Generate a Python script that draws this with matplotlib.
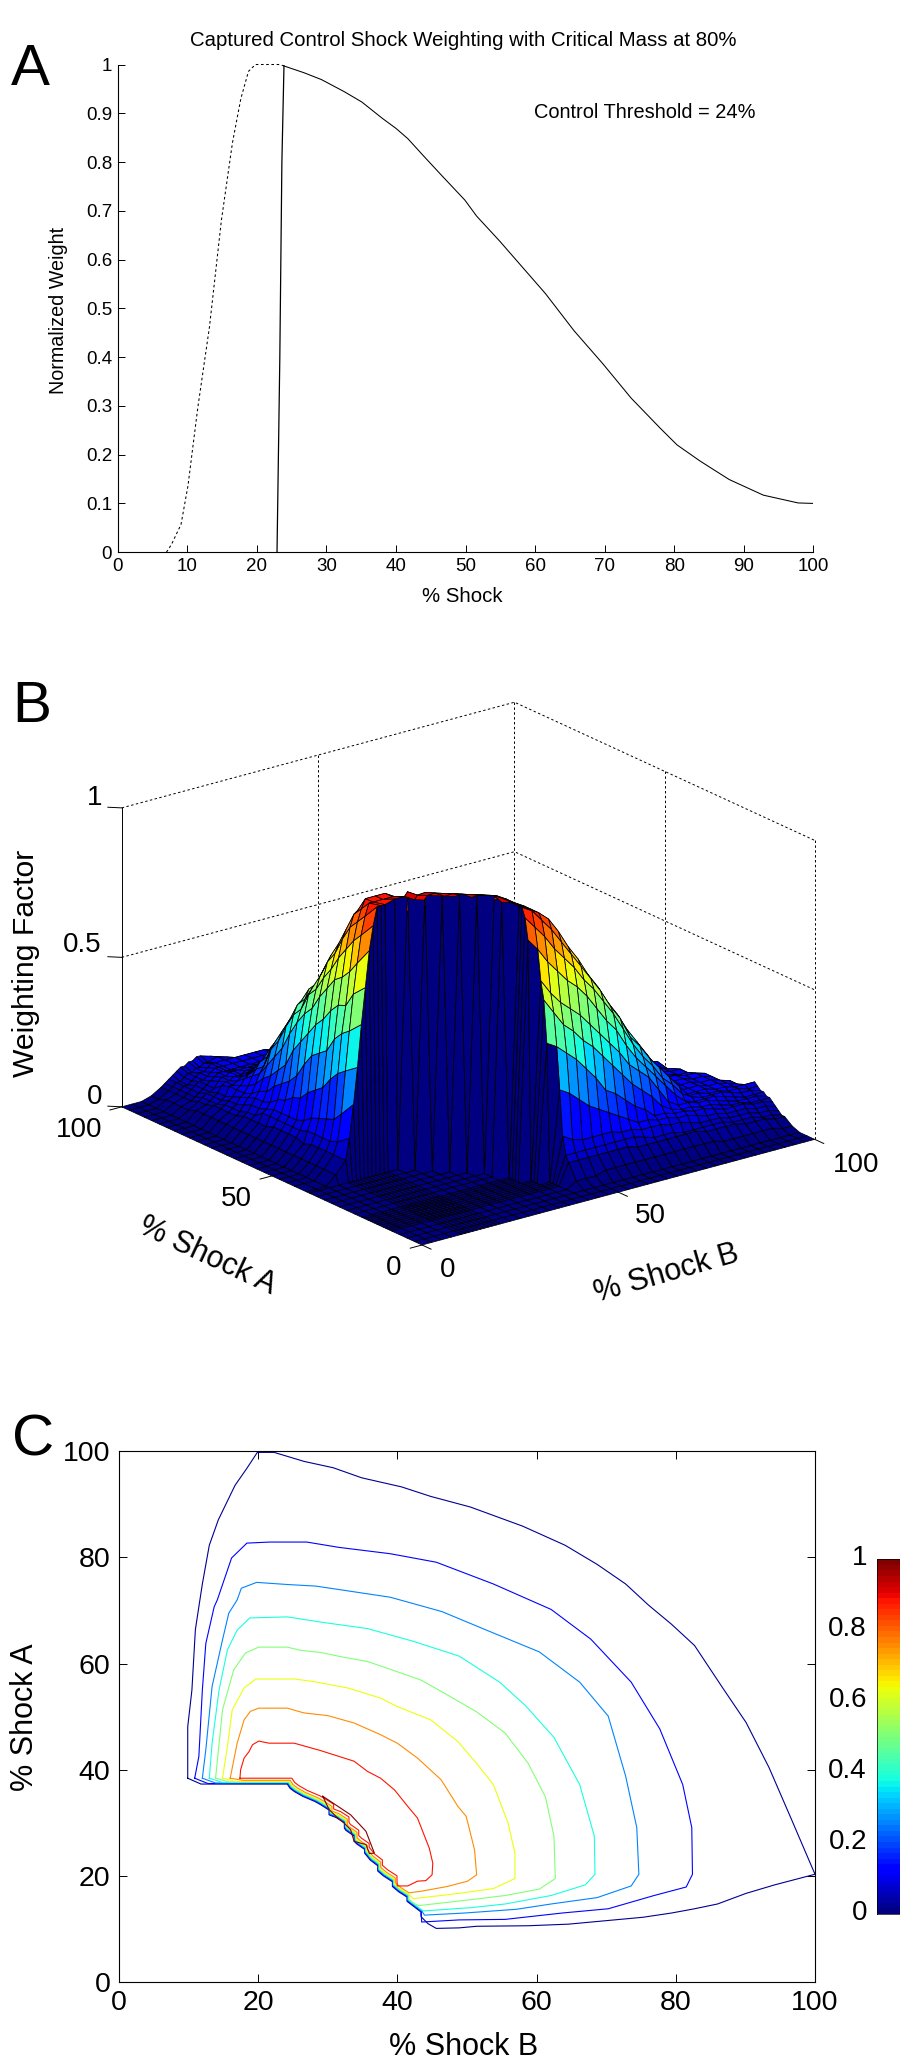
import numpy as np
import matplotlib
matplotlib.use('Agg')
import matplotlib.pyplot as plt
from matplotlib.cm import ScalarMappable
from matplotlib.colors import Normalize
from matplotlib.transforms import ScaledTranslation
from mpl_toolkits.mplot3d import proj3d

plt.rcParams['font.family'] = ['Liberation Sans', 'DejaVu Sans']

W, H = 900, 2070

# panel A: weight against shock size
rise_x = [7, 7.7, 9.1, 10.1, 11.5, 13.2, 14.9, 16.5, 17.7, 18.8, 19.8, 23.1, 24]
rise_y = [0, .015, .057, .136, .295, .463, .68, .84, .93, .986, 1, 1, .997]
cut_x = [22.9, 23.3, 23.6, 23.9]
cut_y = [0, .396, .8, .997]
fall_x = [23.9, 26.8, 29.3, 32.6, 35.1, 38, 40, 41.7, 44, 46.6, 49.9, 51.6, 54.9, 58.2, 61.5, 65.6, 69.7, 73.8, 78, 80.4, 83.7, 87.9, 92.8, 97.8, 100]
fall_y = [.997, .983, .969, .944, .923, .89, .869, .848, .812, .772, .722, .689, .638, .584, .53, .454, .387, .316, .254, .22, .187, .149, .117, .101, .1]
a_xticks = [0, 10, 20, 30, 40, 50, 60, 70, 80, 90, 100]
a_yticks = [0, .1, .2, .3, .4, .5, .6, .7, .8, .9, 1]
a_ylabels = ['0', '0.1', '0.2', '0.3', '0.4', '0.5', '0.6', '0.7', '0.8', '0.9', '1']

# panel B: weighting factor in percent. The mesh is finer where the surface climbs fast.
shock_b = [0, 2.5, 5, 7.5, 10, 11, 12, 13, 14, 15, 16, 17, 18, 19, 20, 22.5, 25, 27.5, 30, 32.5, 35, 37.5, 40, 42.5, 45, 47.5, 50, 52.5, 55, 57.5, 60, 62.5, 65, 67.5, 70, 72.5, 75, 77.5, 80, 82.5, 85, 87.5, 90, 92.5, 95, 97.5, 100]
shock_a = [0, 2.5, 5, 7.5, 10, 11, 12, 13, 14, 15, 16, 17, 18, 19, 20, 22.5, 25, 27.5, 30, 32.5, 35, 37.5, 38.5, 42.5, 45, 47.5, 50, 52.5, 55, 57.5, 60, 62.5, 65, 67.5, 70, 72.5, 75, 77.5, 80, 82.5, 85, 87.5, 90, 92.5, 95, 97.5, 100]
# shock B value where the non zero part of each row starts, then the row's values
row_start = [0, 0, 0, 45, 45, 45, 45, 45, 42.5, 42.5, 42.5, 40, 40, 40, 40, 37.5, 37.5, 35, 32.5, 30, 27.5, 25] + [7.5] * 25
row_vals = [
    [], [], [],
    [2, 2, 2, 3, 3, 3, 3, 3, 3, 3, 3, 3, 3, 3, 3, 2, 2, 2, 2, 2, 2, 1, 1],
    [7, 7, 7, 7, 7, 7, 7, 6, 6, 6, 6, 6, 6, 6, 5, 5, 5, 5, 4, 4, 4, 3, 3],
    [9, 9, 9, 9, 9, 9, 9, 9, 8, 7, 7, 7, 6, 6, 6, 6, 6, 5, 5, 5, 4, 4, 3],
    [15, 13, 12, 12, 12, 12, 11, 11, 10, 10, 10, 9, 9, 8, 7, 7, 7, 6, 6, 6, 5, 5, 4],
    [30, 28, 25, 22, 20, 18, 16, 14, 12, 12, 11, 11, 10, 10, 9, 8, 8, 7, 7, 7, 6, 6, 5],
    [46, 44, 41, 38, 34, 30, 25, 23, 20, 17, 15, 12, 12, 11, 11, 10, 10, 9, 8, 8, 8, 7, 7, 6],
    [60, 55, 50, 47, 43, 40, 36, 32, 28, 24, 21, 18, 14, 12, 11, 11, 10, 10, 9, 8, 8, 7, 7, 7],
    [66, 61, 57, 54, 51, 47, 43, 39, 35, 30, 27, 24, 19, 14, 12, 12, 11, 11, 10, 9, 8, 8, 8, 7],
    [80, 76, 71, 67, 63, 60, 56, 51, 46, 42, 36, 31, 27, 23, 19, 15, 12, 11, 11, 11, 10, 9, 8, 8, 8],
    [87, 83, 79, 74, 70, 66, 61, 57, 52, 47, 41, 35, 30, 26, 21, 18, 14, 12, 11, 11, 11, 10, 9, 9, 8],
    [90, 88, 84, 80, 75, 70, 65, 60, 55, 49, 44, 37, 33, 28, 24, 20, 16, 12, 12, 11, 11, 10, 10, 9, 9],
    [90, 88, 86, 83, 78, 72, 67, 61, 56, 50, 45, 39, 34, 29, 24, 20, 16, 12, 12, 12, 11, 11, 10, 10, 10],
    [91, 90, 88, 86, 82, 77, 72, 67, 61, 56, 50, 45, 39, 34, 29, 24, 20, 16, 12, 12, 12, 11, 11, 10, 9],
    [92, 90, 88, 86, 82, 77, 72, 67, 61, 56, 50, 45, 39, 34, 29, 24, 20, 16, 12, 12, 12, 11, 11, 10, 9],
    [92, 91, 90, 88, 85, 81, 76, 71, 66, 60, 55, 49, 44, 39, 34, 29, 24, 20, 16, 12, 12, 12, 11, 11, 10, 3],
    [92, 91, 90, 89, 87, 84, 80, 75, 70, 64, 59, 53, 49, 43, 38, 33, 28, 23, 19, 16, 12, 12, 12, 11, 11, 10],
    [92, 91, 90, 88, 87, 85, 81, 77, 73, 68, 63, 58, 53, 47, 42, 37, 32, 27, 23, 19, 15, 12, 11, 11, 10, 10, 8],
    [92, 91, 89, 88, 87, 85, 83, 79, 75, 71, 66, 62, 57, 52, 47, 41, 36, 31, 27, 22, 18, 15, 12, 11, 11, 10, 10, 5],
    [92, 90, 89, 88, 87, 86, 84, 81, 77, 74, 69, 65, 60, 55, 50, 46, 40, 35, 30, 26, 21, 17, 14, 12, 11, 10, 10, 9],
    [3, 7, 14, 25, 37, 51, 63, 75, 83, 89, 89, 89, 90, 90, 88, 87, 86, 85, 84, 82, 79, 75, 71, 68, 63, 59, 55, 49, 44, 38, 33, 29, 25, 21, 17, 13, 12, 11, 10, 10, 8],
    [3, 7, 11, 20, 34, 47, 59, 69, 78, 84, 88, 88, 88, 88, 87, 86, 85, 83, 81, 79, 75, 72, 68, 64, 60, 56, 51, 47, 41, 36, 32, 28, 24, 20, 16, 12, 12, 11, 10, 10, 9],
    [3, 7, 10, 17, 32, 45, 54, 65, 75, 81, 85, 88, 88, 88, 86, 84, 82, 80, 77, 75, 72, 67, 64, 61, 58, 53, 49, 44, 39, 35, 31, 27, 23, 19, 15, 12, 11, 11, 10, 10],
    [3, 7, 10, 16, 29, 42, 53, 62, 71, 78, 82, 83, 83, 82, 80, 79, 78, 76, 73, 70, 66, 62, 59, 55, 52, 49, 44, 40, 36, 33, 30, 26, 23, 19, 13, 12, 11, 11, 10, 10],
    [3, 7, 10, 15, 25, 37, 50, 60, 67, 73, 76, 77, 77, 76, 76, 75, 72, 69, 66, 62, 60, 57, 55, 52, 50, 46, 42, 38, 35, 32, 28, 25, 21, 16, 12, 11, 11, 10, 10],
    [3, 6, 10, 14, 23, 35, 46, 56, 62, 67, 70, 71, 71, 70, 69, 68, 66, 64, 62, 59, 56, 54, 51, 49, 46, 43, 39, 36, 33, 30, 27, 24, 20, 14, 12, 11, 11, 10, 10],
    [3, 7, 9, 12, 21, 33, 43, 52, 58, 63, 65, 65, 65, 64, 64, 63, 62, 60, 57, 55, 53, 51, 47, 44, 41, 38, 35, 33, 30, 28, 25, 21, 16, 12, 11, 11, 10, 10],
    [3, 7, 9, 11, 18, 29, 39, 47, 53, 57, 59, 59, 59, 59, 58, 58, 57, 55, 54, 52, 50, 47, 44, 42, 39, 36, 33, 31, 28, 25, 22, 19, 13, 12, 11, 11, 10, 10, 8],
    [3, 7, 9, 11, 17, 24, 35, 44, 50, 52, 53, 53, 53, 53, 53, 52, 52, 51, 50, 48, 46, 44, 41, 39, 36, 33, 30, 28, 25, 23, 20, 15, 12, 11, 11, 10, 10, 5],
    [3, 7, 9, 11, 15, 21, 31, 40, 44, 47, 50, 50, 50, 50, 50, 50, 48, 47, 46, 44, 42, 39, 37, 34, 32, 30, 28, 25, 23, 20, 17, 12, 11, 11, 10, 10, 9],
    [3, 6, 9, 11, 14, 19, 25, 35, 41, 44, 45, 45, 45, 44, 44, 43, 42, 41, 39, 37, 35, 33, 31, 29, 27, 25, 22, 20, 18, 15, 12, 12, 11, 11, 10, 10],
    [3, 6, 9, 10, 12, 17, 22, 29, 36, 38, 39, 39, 39, 39, 38, 38, 36, 35, 33, 32, 30, 29, 27, 25, 23, 21, 19, 17, 15, 12, 12, 11, 11, 10, 10],
    [3, 6, 7, 9, 11, 14, 19, 25, 30, 33, 34, 34, 34, 33, 33, 32, 31, 30, 29, 28, 27, 26, 24, 22, 20, 18, 16, 14, 12, 12, 11, 11, 10, 10],
    [3, 6, 7, 9, 11, 13, 17, 21, 26, 28, 29, 29, 29, 28, 28, 27, 27, 26, 25, 24, 23, 22, 20, 19, 17, 15, 13, 12, 11, 11, 10, 10, 10, 5],
    [3, 5, 6, 8, 10, 11, 14, 17, 19, 22, 25, 25, 25, 25, 24, 23, 23, 22, 21, 20, 19, 18, 17, 15, 13, 12, 11, 11, 11, 11, 10, 10, 9],
    [3, 5, 6, 7, 9, 10, 12, 15, 17, 19, 20, 20, 20, 20, 19, 19, 18, 18, 17, 16, 15, 14, 13, 12, 11, 11, 11, 11, 10, 10, 10, 8],
    [3, 5, 6, 7, 8, 10, 11, 13, 14, 15, 16, 16, 16, 16, 15, 15, 15, 14, 14, 13, 12, 12, 11, 11, 11, 11, 10, 10, 10, 9, 5],
    [3, 5, 5, 6, 7, 10, 10, 11, 12, 12, 13, 13, 13, 13, 12, 12, 12, 11, 11, 11, 11, 11, 10, 10, 10, 10, 10, 10, 9],
    [3, 4, 5, 6, 7, 9, 10, 10, 11, 11, 11, 12, 12, 11, 11, 11, 11, 11, 11, 10, 10, 10, 10, 10, 10, 10, 10, 9],
    [2, 4, 5, 6, 6, 7, 9, 10, 10, 11, 11, 11, 11, 11, 10, 10, 10, 10, 10, 10, 10, 10, 10, 10, 9],
    [2, 3, 4, 5, 6, 7, 8, 9, 10, 10, 10, 10, 10, 10, 10, 10, 10, 10, 10, 10, 10, 10, 9],
    [2, 3, 4, 5, 6, 7, 7, 8, 9, 10, 10, 10, 10, 10, 10, 10, 10, 10, 10, 10, 9, 9],
    [2, 3, 4, 5, 5, 6, 7, 8, 8, 9, 10, 10, 10, 10, 10, 10, 10, 9, 5],
    [1, 3, 4, 5, 5, 6, 7, 7, 8, 8, 9, 9, 10, 9, 6],
    [1, 3, 4, 5, 6, 7, 8, 8, 9, 9, 10, 10, 9, 3],
]
b_xyticks = [0, 50, 100]
b_zticks = [0, .5, 1]

# panel C: contour lines, x is % shock B and y is % shock A
c0_b = [9.9, 9.9, 10.5, 11, 11.65, 12, 13, 14.3, 16.7, 18.4, 19.9, 22.3, 26.6, 30.8, 34.9, 40.6, 44.8, 50.5, 58, 64.1, 68.7, 72.8, 76.1, 79.4, 82.7, 86.8, 90.1, 93.4, 96.7, 100, 94.2, 90.1, 86, 82.7, 79.4, 75.3, 68.7, 64.6, 58.8, 51.4, 48.9, 45.6, 44.4, 43.5]
c0_a = [38.4, 48.1, 55, 66.4, 72, 75, 82.3, 87.1, 93.6, 96.8, 99.8, 99.8, 98.1, 96.9, 95, 93.3, 91.5, 89.5, 85.9, 82.3, 78.7, 75, 71, 67.4, 63.4, 55.3, 48.9, 40.4, 30.4, 20.3, 18.3, 16.7, 14.7, 13.8, 13, 12.2, 11.4, 10.9, 10.6, 10.5, 10.2, 10.1, 11, 12.2]
c1_b = [10.9, 11.5, 12, 12.5, 13.7, 14.15, 16.2, 18.4, 21.7, 27, 31.6, 39, 45.6, 53.8, 62.1, 67.8, 73.6, 77.7, 81, 82.3, 82.4, 81.5, 76.9, 70.3, 63.7, 55.5, 48.9, 43.5]
c1_a = [38.4, 42.5, 55, 63.8, 70.7, 72, 79.9, 82.7, 82.9, 82.9, 81.9, 80.7, 79.1, 75, 70.2, 64.6, 56.5, 47.7, 37.2, 29.1, 20.3, 17.9, 16.3, 13.8, 13, 11.8, 11.7, 11.3]
c2_b = [12, 12.5, 13.4, 14.9, 15.8, 17, 17.6, 19.8, 24.2, 28.3, 32.4, 39, 46.4, 53, 60.4, 66.2, 70.3, 72.8, 74.4, 74.7, 73.6, 68.7, 62.1, 57.1, 49.7, 43.9]
c2_a = [38.4, 43.8, 55.7, 64.5, 69.5, 72, 74.2, 75.3, 74.9, 74.6, 73.8, 72.5, 69.8, 66.2, 62.2, 56.5, 50.1, 38.8, 29.1, 20.3, 18.1, 15.9, 14.7, 13.7, 13, 12.6]
c3_b = [13, 13.4, 14.4, 15.6, 17, 18.8, 24.2, 29.1, 35.7, 42.3, 48.9, 54.7, 58.4, 62.5, 66.2, 68.3, 68.4, 67, 62.1, 55.5, 50.5, 43.9]
c3_a = [38.4, 45, 55, 62.6, 66.3, 68.6, 68.8, 67.8, 66.6, 64.2, 61.4, 56.5, 52.1, 46.1, 37.2, 27.5, 20.3, 18.3, 16.3, 14.7, 14, 13.4]
c4_b = [13.9, 14.9, 16.5, 18.2, 20.1, 24.2, 26.1, 29, 31.9, 35.7, 38.6, 43.4, 46.8, 51.4, 55.5, 58.8, 61.3, 62.5, 62.7, 60.4, 55.5, 50.5, 43.1]
c4_a = [38.4, 51.3, 58.8, 62, 63.1, 63.1, 62.5, 62.1, 61.3, 60.4, 59.1, 56.9, 54.4, 50.9, 46.9, 41.2, 34.8, 27.5, 19.5, 17.5, 16.3, 15.5, 14.4]
c5_b = [14.9, 15.6, 16.3, 18, 19.7, 25.2, 28, 32.9, 37.6, 40, 44.8, 48.7, 51.4, 53.8, 55.9, 56.9, 56.9, 53.8, 48.9, 42.3]
c5_a = [38.4, 44.4, 51.3, 55.4, 57.1, 57.1, 56.6, 55.4, 53.5, 51.9, 49.4, 45.3, 41.2, 37.2, 30, 24.3, 19.5, 17.6, 16.7, 15.7]
c6_b = [16, 17, 18, 18.9, 20.1, 24.2, 26.6, 30, 33.8, 37.6, 40, 42.9, 46.3, 48.7, 49.9, 51.1, 51.4, 50.1, 47.2, 43.4, 41.7]
c6_a = [38.4, 45, 49.4, 51, 51.6, 51.6, 50.7, 50.2, 48.8, 46.6, 45, 42.2, 38.1, 33.1, 31.2, 24.9, 20.2, 19, 18, 17.1, 16.8]
c7_b = [17.4, 17.5, 18, 18.7, 19.2, 20.1, 21.6, 25.2, 29, 33.8, 35.7, 37.6, 39.6, 41.5, 42.9, 44.6, 45.1, 45, 44.1, 42.9, 41.5, 40]
c7_a = [38.4, 40, 42.2, 43.4, 44.7, 45.4, 45, 45, 43.6, 41.6, 39.7, 38.4, 36.2, 33.1, 30.9, 25.2, 22.4, 20.2, 19.1, 19, 18.1, 18.1]
c8_b = [29.3, 33.3, 35.5, 36.7, 36, 35.5, 33.8, 33.3, 32.4, 31.2, 30.2, 29.3]
c8_a = [35, 31.5, 28.4, 24.3, 24.2, 25.9, 26.5, 28.7, 29.9, 31.2, 32.5, 35]
edge_b = [43.4, 43.4, 42.3, 41.4, 41.4, 40.2, 39.3, 39.3, 38, 37.2, 37.2, 36.1, 35.3, 35.3, 34.2, 33.8, 33.8, 32.6, 32.4, 32.4, 31.2, 30.2, 30.2, 29, 28.2, 26.4, 25.2, 24.6, 24.2]
edge_a = [12.4, 13.2, 14.3, 15.2, 16, 17, 18, 18.9, 20, 20.9, 21.9, 23, 24.3, 25, 26, 26.5, 27.5, 28.6, 29, 30, 31, 31.5, 32.4, 33.4, 34, 35, 35.9, 36.5, 37.3]
edge_lift = [0, .1, .2, .3, .4, .5, .7, 1.1]
levels = [.02, .125, .25, .375, .5, .625, .75, .875]
sliver_level = .99
c_ticks = [0, 20, 40, 60, 80, 100]
bar_ticks = [0, .2, .4, .6, .8, 1]
bar_labels = ['0', '0.2', '0.4', '0.6', '0.8', '1']

jet = plt.get_cmap('jet', 64)


def px_axes(left, right, top, bottom, **kw):
    return fig.add_axes([left / W, 1 - bottom / H, (right - left) / W, (bottom - top) / H], **kw)


def px_text(x, y, s, **kw):
    kw.setdefault('ha', 'center')
    kw.setdefault('va', 'center')
    fig.text(x / W, 1 - y / H, s, **kw)


def corner_px(ax, x, y, z):
    xp, yp, _ = proj3d.proj_transform(x, y, z, ax.get_proj())
    return ax.transData.transform((xp, yp))


fig = plt.figure(figsize=(W / 100, H / 100), dpi=100, facecolor='white')

# ---- A
ax_a = px_axes(117.7, 813.4, 64.5, 552.2)
ax_a.plot(rise_x, rise_y, c='k', lw=.75, ls=(0, (2.5, 2.5)), clip_on=False)
ax_a.plot(cut_x, cut_y, c='k', lw=.9)
ax_a.plot(fall_x, fall_y, c='k', lw=.75)
ax_a.set_xlim(0, 100)
ax_a.set_ylim(0, 1)
ax_a.set_xticks(a_xticks)
ax_a.set_yticks(a_yticks)
ax_a.set_yticklabels(a_ylabels)
ax_a.tick_params(direction='in', length=5, width=.7, labelsize=13.5, pad=4)
ax_a.spines['top'].set_visible(False)
ax_a.spines['right'].set_visible(False)
px_text(463, 40, 'Captured Control Shock Weighting with Critical Mass at 80%', fontsize=14.7)
px_text(645, 112, 'Control Threshold = 24%', fontsize=14.4)
px_text(462, 596, '% Shock', fontsize=14.7)
px_text(59, 310, 'Normalized Weight', fontsize=14.2, rotation=90)

# ---- B
weight = np.zeros((len(shock_a), len(shock_b)))
for r in range(len(shock_a)):
    vals = row_vals[r]
    first = shock_b.index(row_start[r])
    weight[r, first:first + len(vals)] = vals
weight = weight / 100
grid_b, grid_a = np.meshgrid(shock_b, shock_a)

ax_b = fig.add_axes([0, 0, 1, 1], projection='3d', proj_type='ortho', computed_zorder=False)
ax_b.set_box_aspect((1, 1, .646))
ax_b.view_init(elev=20.6, azim=-127.4)
ax_b.set_xlim(0, 100)
ax_b.set_ylim(0, 100)
ax_b.set_zlim(0, 1)
ax_b.set_axis_off()
ax_b.patch.set_alpha(0)

# scale and move the 3d box so its corners land where they do in the picture
size = 900.0
ax_b.set_position([0, 0, size / W, size / H])
ax_b.apply_aspect()
w_now = corner_px(ax_b, 100, 0, 0)[0] - corner_px(ax_b, 0, 100, 0)[0]
size = size * 693 / w_now
ax_b.set_position([0, 0, size / W, size / H])
ax_b.apply_aspect()
front = corner_px(ax_b, 0, 0, 0)
ax_b.set_position([(422 - front[0]) / W, (H - 1245 - front[1]) / H, size / W, size / H])
ax_b.apply_aspect()

dash = dict(c='k', lw=.7, ls=(0, (2.5, 2.5)), zorder=1)
for z in [1, .5]:
    ax_b.plot([0, 100, 100], [100, 100, 0], [z, z, z], **dash)
for x, y in [(50, 100), (100, 100), (100, 50), (100, 0)]:
    ax_b.plot([x, x], [y, y], [0, 1], **dash)
ax_b.plot([0, 0], [100, 100], [0, 1], c='k', lw=.7, zorder=1)
for z in b_zticks:
    ax_b.plot([0, -2], [100, 102], [z, z], c='k', lw=.7, zorder=1)
for t in b_xyticks:
    ax_b.plot([t, t], [0, -3], [0, 0], c='k', lw=.7, zorder=1)
    ax_b.plot([0, -3], [t, t], [0, 0], c='k', lw=.7, zorder=1)

ax_b.plot_surface(grid_b, grid_a, weight, rstride=1, cstride=1, facecolors=jet(weight),
                  shade=False, edgecolor='k', linewidth=.55, antialiased=True, zorder=2)

px_text(95, 798, '1', fontsize=20)
px_text(82, 945, '0.5', fontsize=20)
px_text(95, 1097, '0', fontsize=20)
px_text(79, 1130, '100', fontsize=20)
px_text(236.5, 1199, '50', fontsize=20)
px_text(394, 1268, '0', fontsize=20)
px_text(448, 1270, '0', fontsize=20)
px_text(650, 1216, '50', fontsize=20)
px_text(856.5, 1165, '100', fontsize=20)
px_text(207, 1256, '% Shock A', fontsize=22, rotation=-25)
px_text(666, 1274, '% Shock B', fontsize=22, rotation=16)
px_text(26, 963, 'Weighting Factor', fontsize=21.7, rotation=90)

# ---- C
ax_c = px_axes(118.8, 815, 1451.3, 1982)
all_b = [c0_b, c1_b, c2_b, c3_b, c4_b, c5_b, c6_b, c7_b]
all_a = [c0_a, c1_a, c2_a, c3_a, c4_a, c5_a, c6_a, c7_a]
for k in range(8):
    lift = edge_lift[k]
    b = list(all_b[k])
    a = list(all_a[k])
    # the lines run together along the inner edge, each one a bit inside the last
    for eb, ea in zip(edge_b, edge_a):
        if ea + lift > a[len(all_a[k]) - 1]:
            b.append(eb + lift * .6)
            a.append(ea + lift)
    b += [b[0] + 1.9, b[0]]
    a += [37.3 + lift, a[0]]
    ax_c.plot(b, a, c=jet(levels[k]), lw=.8)
ax_c.plot(c8_b, c8_a, c=jet(sliver_level), lw=.8)
ax_c.set_xlim(0, 100)
ax_c.set_ylim(0, 100)
ax_c.set_xticks(c_ticks)
ax_c.set_yticks(c_ticks)
ax_c.tick_params(direction='in', length=6, width=.7, labelsize=20.5, top=True, right=True, pad=6)
for s in ax_c.spines.values():
    s.set_linewidth(.8)
px_text(464, 2046.6, '% Shock B', fontsize=22)
px_text(25, 1717, '% Shock A', fontsize=22, rotation=90)

cax = px_axes(876.6, 905, 1559.4, 1914)
cb = fig.colorbar(ScalarMappable(Normalize(0, 1), jet), cax=cax)
cb.set_ticks(bar_ticks)
cb.set_ticklabels(bar_labels)
cax.yaxis.set_ticks_position('left')
cax.tick_params(length=0, labelsize=20, pad=7)
cb.outline.set_linewidth(.5)
up = ScaledTranslation(0, 4 / 100, fig.dpi_scale_trans)
for lab in cax.get_yticklabels():
    lab.set_transform(lab.get_transform() + up)

# panel letters
px_text(30, 85, 'A', fontsize=42, va='baseline')
px_text(32, 722, 'B', fontsize=42, va='baseline')
px_text(33, 1455, 'C', fontsize=42, va='baseline')

fig.savefig('out.png', dpi=100)
